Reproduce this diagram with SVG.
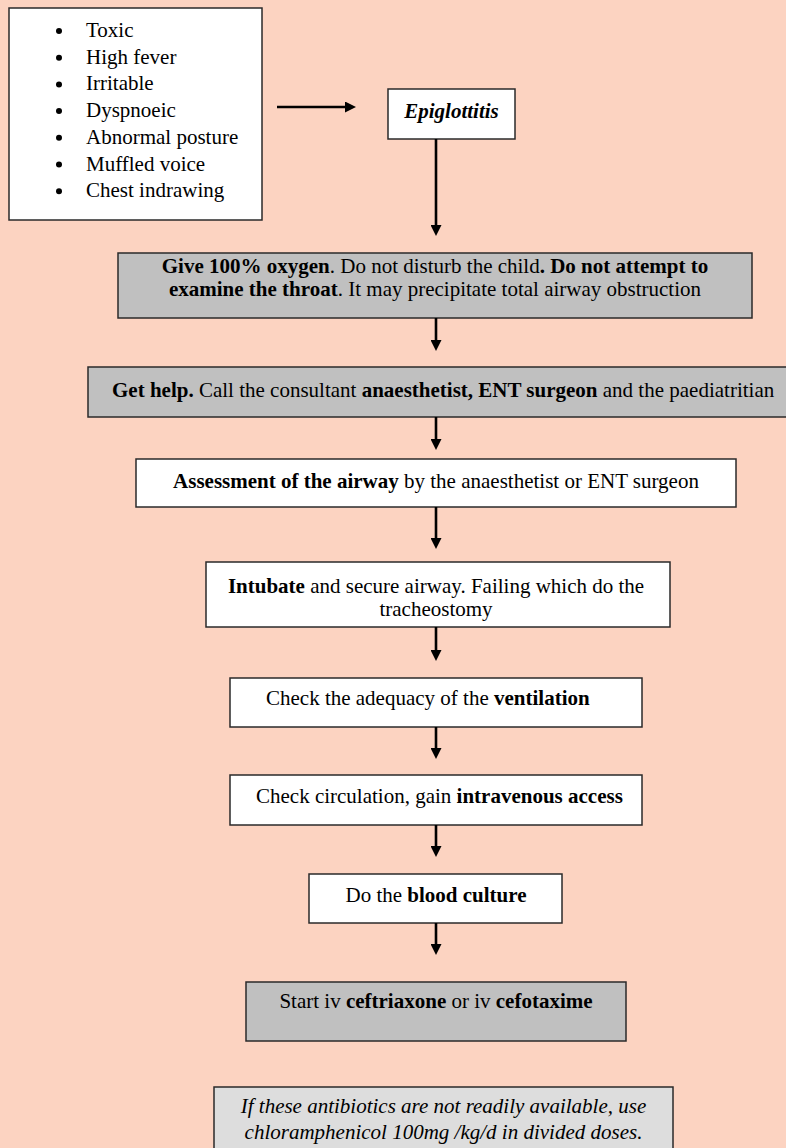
<svg xmlns="http://www.w3.org/2000/svg" width="786" height="1148" viewBox="0 0 786 1148">
<style>
.bg{fill:#fcd3c1}
.box{fill:#ffffff;stroke:#2a2a2a;stroke-width:1.5}
.grey{fill:#c0c0c0;stroke:#2a2a2a;stroke-width:1.5}
.note{fill:#dddddd;stroke:#2a2a2a;stroke-width:1.5}
text{font-family:"Liberation Serif","Times New Roman",serif;font-size:21px;fill:#000}
.c{text-anchor:middle}
.b{font-weight:bold}
.i{font-style:italic}
.conn{stroke:#000;stroke-width:2.6;fill:none;marker-end:url(#ah)}
</style>
<defs>
<marker id="ah" viewBox="0 0 11 11" refX="1" refY="5.5" markerWidth="11" markerHeight="11" orient="auto" markerUnits="userSpaceOnUse">
<path d="M0,0 L11,5.5 L0,11 z" fill="#000"/>
</marker>
</defs>
<rect class="bg" x="0" y="0" width="786" height="1148"/>

<g id="symptoms">
<rect class="box" x="9" y="8" width="253" height="212"/>
<g fill="#000">
<circle cx="59" cy="31" r="3"/>
<circle cx="59" cy="57.7" r="3"/>
<circle cx="59" cy="84.4" r="3"/>
<circle cx="59" cy="111.1" r="3"/>
<circle cx="59" cy="137.8" r="3"/>
<circle cx="59" cy="164.5" r="3"/>
<circle cx="59" cy="191.2" r="3"/>
</g>
<text x="86" y="37">Toxic</text>
<text x="86" y="63.7">High fever</text>
<text x="86" y="90.4">Irritable</text>
<text x="86" y="117.1">Dyspnoeic</text>
<text x="86" y="143.8">Abnormal posture</text>
<text x="86" y="170.5">Muffled voice</text>
<text x="86" y="197.2">Chest indrawing</text>
</g>

<g id="epiglottitis">
<rect class="box" x="388" y="89" width="127" height="50"/>
<text class="c b i" x="451.5" y="118">Epiglottitis</text>
</g>

<g id="oxygen">
<rect class="grey" x="118" y="253" width="634" height="65"/>
<text class="c" x="435" y="273"><tspan class="b">Give 100% oxygen</tspan>. Do not disturb the child<tspan class="b">. Do not attempt to</tspan></text>
<text class="c" x="435" y="296"><tspan class="b">examine the throat</tspan>. It may precipitate total airway obstruction</text>
</g>

<g id="help">
<rect class="grey" x="88" y="367" width="710" height="50"/>
<text x="112" y="397"><tspan class="b">Get help.</tspan> Call the consultant <tspan class="b">anaesthetist, ENT surgeon</tspan> and the paediatritian</text>
</g>

<g id="assessment">
<rect class="box" x="136" y="459" width="600" height="48"/>
<text class="c" x="436" y="488"><tspan class="b">Assessment of the airway</tspan> by the anaesthetist or ENT surgeon</text>
</g>

<g id="intubate">
<rect class="box" x="206" y="562" width="464" height="65"/>
<text class="c" x="436" y="593"><tspan class="b">Intubate</tspan> and secure airway. Failing which do the</text>
<text class="c" x="436" y="616">tracheostomy</text>
</g>

<g id="ventilation">
<rect class="box" x="230" y="678" width="412" height="49"/>
<text x="266" y="705">Check the adequacy of the <tspan class="b">ventilation</tspan></text>
</g>

<g id="circulation">
<rect class="box" x="230" y="775" width="412" height="50"/>
<text x="256" y="803">Check circulation, gain <tspan class="b">intravenous access</tspan></text>
</g>

<g id="culture">
<rect class="box" x="309" y="874" width="253" height="49"/>
<text class="c" x="436" y="902">Do the <tspan class="b">blood culture</tspan></text>
</g>

<g id="antibiotics">
<rect class="grey" x="246" y="982" width="380" height="59"/>
<text class="c" x="436" y="1008">Start iv <tspan class="b">ceftriaxone</tspan> or iv <tspan class="b">cefotaxime</tspan></text>
</g>

<g id="alternative">
<rect class="note" x="214" y="1087" width="459" height="70"/>
<text class="c i" x="443.5" y="1113">If these antibiotics are not readily available, use</text>
<text class="c i" x="443.5" y="1139">chloramphenicol 100mg /kg/d in divided doses.</text>
</g>

<g id="connectors">
<path class="conn" d="M277,107 H346"/>
<path class="conn" d="M436,139 V226"/>
<path class="conn" d="M436,318 V341"/>
<path class="conn" d="M436,417 V440"/>
<path class="conn" d="M436,507 V539"/>
<path class="conn" d="M436,627 V651"/>
<path class="conn" d="M436,727 V749"/>
<path class="conn" d="M436,825 V847"/>
<path class="conn" d="M436,923 V945"/>
</g>
</svg>
